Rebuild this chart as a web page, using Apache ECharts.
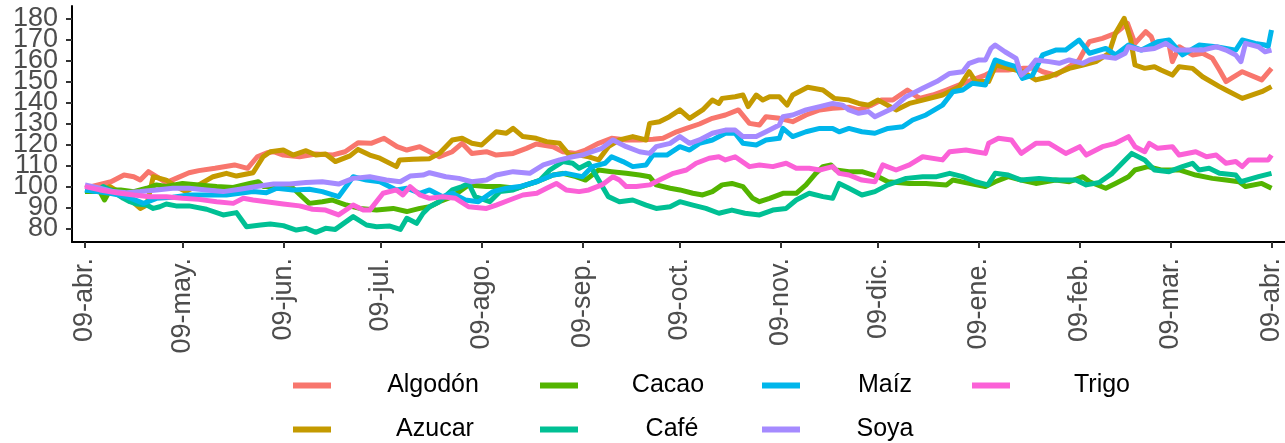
<!DOCTYPE html>
<html><head><meta charset="utf-8">
<script src="https://cdn.jsdelivr.net/npm/echarts@6/dist/echarts.min.js"></script>
<style>html,body{margin:0;padding:0;background:#fff}#c{width:1285px;height:443px}</style>
</head><body><div id="c"></div>
<script>
// ---------- DATA ----------
const seriesNames = ['Algodón','Azucar','Cacao','Café','Maíz','Soya','Trigo'];
const seriesColors = ['#F8766D','#C49A00','#53B400','#00C094','#00B6EB','#A58AFF','#FB61D7'];
const startDate = '2021-04-09';
const tickDates = ['2021-04-09','2021-05-09','2021-06-09','2021-07-09','2021-08-09','2021-09-09','2021-10-09','2021-11-09','2021-12-09','2022-01-09','2022-02-09','2022-03-09','2022-04-09'];
const tickLabels = ['09-abr.','09-may.','09-jun.','09-jul.','09-ago.','09-sep.','09-oct.','09-nov.','09-dic.','09-ene.','09-feb.','09-mar.','09-abr.'];
const yTicks = [80,90,100,110,120,130,140,150,160,170,180];

// [days since startDate, index value]
const algodon = [[0,99.4],[8,102.5],[12,105.7],[15,104.9],[17,103.3],[19.5,107.3],[22,104.9],[25,102.1],[28,104.1],[32,106.8],[35,107.8],[40,108.9],[46,110.5],[50,108.9],[53,114.4],[56,116.3],[58,116.8],[61,115.2],[66,114.4],[71,115.7],[76,115.2],[80,116.8],[84,121.1],[88,120.8],[92,123.2],[96,119.2],[99,117.6],[103,119.2],[106,116.8],[109,114.4],[113,116.8],[116,120.8],[119,116.0],[123.5,116.8],[126.5,115.2],[131.7,116.0],[135.8,118.4],[138.8,120.5],[144,119.2],[147,116.8],[151,116.0],[154,117.6],[158,120.8],[162,123.2],[166.5,122.4],[170.6,122.4],[174.7,122.7],[177.8,123.2],[182,126.3],[185,127.9],[189,130.0],[193,132.7],[197,134.3],[201,136.7],[204.4,130.3],[207.5,129.5],[209.5,133.5],[213.6,132.7],[217.7,131.1],[221.8,134.3],[226,136.7],[230,137.5],[235,138.0],[238,136.7],[242,139.0],[245,141.4],[248.5,141.4],[253,146.2],[256.7,142.2],[260.8,143.8],[265,146.2],[269,148.6],[273,151.0],[277,153.3],[280,155.7],[284,155.7],[288.4,156.5],[292.5,156.5],[294.6,154.9],[298.6,153.3],[302.8,157.3],[305.8,160.5],[308,166.8],[309,169.2],[313,170.8],[317,173.2],[320.7,177.9],[323,168.4],[326.3,174.0],[328,171.6],[329,167.6],[331.4,168.4],[333.5,167.6],[334.5,159.7],[336.6,166.8],[340.7,162.9],[343.8,163.7],[346.8,161.3],[349,155.7],[351,150.2],[356,154.9],[362,151.0],[365,156.5]];
const azucar = [[0,97.8],[4.6,97.8],[7.7,100.2],[12.8,95.4],[17,89.8],[19,91.4],[21,104.9],[25,103.3],[28,100.2],[31,97.8],[35,101.0],[39.4,104.9],[43.5,106.5],[46.6,105.2],[51.7,106.8],[54.8,114.4],[57,116.8],[61,117.6],[64,115.2],[68,117.3],[71,115.2],[74,115.7],[77,112.1],[81.5,114.8],[84,117.9],[87.6,115.2],[90.7,113.7],[95.8,109.7],[96.8,112.9],[101,113.2],[106,113.5],[109,116.0],[113,122.4],[116,123.2],[119,120.8],[122,120.0],[126.5,126.3],[129.6,125.6],[131.7,127.9],[134.7,124.0],[138.8,123.2],[142,121.6],[146,120.8],[149,115.2],[152,115.2],[155,114.4],[158,112.9],[161,119.2],[164.4,122.4],[168.5,124.0],[172.6,122.4],[173.7,130.3],[176.7,131.1],[179.8,133.5],[183,136.7],[186,132.7],[190,136.7],[193,141.4],[195,139.8],[196,142.2],[200,143.0],[202.4,143.8],[204,138.3],[206.5,143.8],[208.5,141.4],[210.6,143.0],[213.6,143.0],[216,139.0],[217.7,143.8],[222.3,147.5],[227,146.2],[230.5,142.2],[235,141.4],[238,139.8],[241,139.0],[244,141.4],[249.5,136.7],[253.6,139.8],[257.7,141.4],[263.8,143.8],[269,147.8],[272,154.9],[274,150.2],[278,150.2],[280.2,158.1],[284.3,156.5],[288.4,154.9],[292.5,151.0],[296.6,152.5],[302.8,156.5],[307,158.1],[311,159.7],[315,163.7],[317,173.2],[319.7,180.3],[321.7,170.0],[323,158.1],[326,156.5],[329,157.3],[331,155.7],[334.5,153.3],[336.6,157.3],[340.7,156.5],[343.8,152.5],[349,147.8],[351,146.2],[356,142.2],[362,145.4],[365,147.8]];
const cacao = [[0,97.8],[4.6,97.8],[6,93.8],[7.7,98.6],[11,98.6],[15,97.8],[19,99.4],[22,101.0],[25,100.2],[30,101.7],[35,101.0],[40.5,100.2],[45.6,99.8],[50.7,101.7],[53.3,102.5],[55,100.2],[59,100.2],[64,99.4],[69,92.2],[73,93.0],[76,93.8],[80.4,91.4],[84.5,89.8],[89.7,89.0],[94.8,89.8],[99,88.3],[103,89.8],[106,90.6],[109,93.0],[113,95.4],[118,101.0],[123.5,100.2],[127.6,100.2],[132.7,99.4],[139,102.5],[144,105.7],[147,106.5],[151,104.9],[154,103.3],[158,108.1],[162,107.3],[166.5,106.5],[170.6,105.7],[173.7,104.9],[175.7,101.0],[180,99.4],[183,98.6],[187,97.0],[190,96.2],[193,97.8],[196,101.0],[199,101.7],[202.4,100.2],[205.4,94.6],[207.5,93.0],[210.6,94.6],[214.7,97.0],[218.8,97.0],[221.8,101.0],[224.8,106.5],[227,109.7],[229.5,110.5],[231,108.1],[235,107.3],[239,107.3],[244,104.9],[247,102.5],[253.6,101.7],[258.7,101.7],[265,101.0],[267,103.3],[272,101.7],[277,100.2],[280,102.5],[284,104.9],[288,103.3],[292.5,101.7],[298.6,103.3],[302.8,102.5],[307,104.9],[309,102.5],[314,99.4],[317,101.7],[321,104.9],[323,108.1],[327,109.7],[331,108.1],[336.6,108.1],[341.7,105.7],[346.8,104.1],[351,103.3],[355,102.5],[357,100.2],[362,101.7],[365,99.4]];
const cafe = [[0,98.6],[3.6,97.8],[5.6,100.2],[8.7,97.8],[11.8,94.6],[13.8,93.0],[16,91.9],[19,91.4],[21,89.8],[23,90.6],[25,91.9],[28,91.0],[32,91.0],[37.4,89.4],[42.5,86.7],[46.6,87.8],[49.7,81.1],[54,81.9],[57,82.4],[61,81.6],[65,79.5],[68,80.3],[71,78.4],[74,80.3],[77,79.8],[82.5,85.9],[86.6,81.9],[89.7,81.1],[93.8,81.4],[97,79.8],[99,85.1],[102,82.7],[104,87.5],[106,90.6],[109,93.0],[113,98.6],[116,100.2],[118,101.7],[120,95.4],[124.5,93.0],[127.6,97.8],[131.7,98.6],[135.8,101.0],[140,103.3],[143,108.1],[147,112.1],[150,111.3],[152,108.9],[155,111.3],[158,103.3],[161,95.4],[164.4,93.0],[168.5,93.8],[172.6,91.4],[175.7,89.8],[180,90.6],[183,93.0],[187,91.4],[191,89.8],[195,87.5],[199,89.0],[203,87.5],[207.5,86.7],[211.6,89.0],[215.7,89.8],[218.8,93.8],[222.8,97.0],[227,95.4],[230,94.6],[232,101.7],[235,99.4],[239,96.2],[243,97.8],[247,101.0],[252.6,104.1],[257.7,104.9],[262,104.9],[266,106.5],[270,104.9],[274,102.5],[277.7,101.0],[280,106.5],[284,105.7],[288,103.3],[293.5,104.1],[298.6,103.3],[304.8,103.3],[308,101.0],[312,102.1],[316,106.5],[320,112.9],[322,116.0],[326,112.9],[329,108.1],[333.5,107.3],[337.6,109.7],[340.7,111.3],[342.7,108.1],[345.8,108.9],[349,106.5],[354,105.7],[355.6,102.5],[361,104.9],[365,106.5]];
const maiz = [[0,98.6],[3.6,97.8],[7.7,97.0],[12.8,95.4],[18,92.2],[22,94.6],[27,95.1],[32,96.2],[37,96.2],[43.5,96.2],[47.6,97.0],[51.7,97.8],[55.8,97.3],[59,99.4],[64,98.6],[69,98.9],[73,97.8],[78,95.4],[82.5,104.9],[86.6,103.3],[90.7,102.5],[95.8,98.6],[99,99.4],[103,97.0],[106,98.6],[110,95.4],[113,97.0],[117,93.8],[121,93.0],[125.5,97.8],[129.6,99.4],[133.7,100.2],[139,102.5],[144,105.7],[148,106.5],[153,104.9],[156,109.7],[160,111.3],[162,114.4],[165.5,112.1],[168.5,109.7],[172.6,110.5],[174.7,115.2],[179,115.2],[183,119.2],[186,117.6],[189,120.8],[193,122.4],[197,125.6],[200,125.6],[202.4,120.8],[206.5,120.0],[209.5,122.4],[213.6,123.2],[214.7,127.9],[217.7,124.0],[221.8,126.3],[226,127.9],[230,127.9],[232,126.3],[235,127.9],[239,126.3],[243,125.6],[247,127.9],[251.5,128.7],[254.6,131.9],[258.7,134.3],[263.8,139.0],[267,145.4],[270,146.2],[273,149.4],[277,148.6],[280,160.5],[283,158.9],[286.4,157.3],[288.4,151.7],[291.5,153.3],[294.6,162.9],[298.6,165.2],[301.7,165.2],[305.8,170.0],[309,163.7],[314,166.0],[317,162.9],[321,167.6],[325,165.2],[330,169.2],[333.5,170.0],[337.6,162.9],[342.7,167.6],[348,166.8],[354,165.2],[356,170.0],[360,168.4],[363,167.6],[364,167.0],[365,174.8]];
const soya = [[0,101.0],[4.6,99.4],[8.7,97.8],[12.8,97.3],[17,97.8],[22,98.6],[27,99.4],[32,99.4],[37.4,98.6],[42.5,97.8],[47.6,98.9],[52.8,100.2],[58,101.4],[63,101.4],[68,102.1],[73,102.5],[78,101.4],[82.5,104.1],[87.6,104.9],[92.7,103.3],[97,102.5],[100,105.2],[104,105.7],[106,106.8],[111,104.9],[115,104.1],[119,102.5],[123.5,103.3],[126.5,105.7],[131.7,107.3],[136.8,106.5],[141,110.5],[146,112.9],[150,114.4],[153,115.2],[156,116.8],[159,118.4],[162.4,122.4],[166.5,119.2],[170.6,116.8],[173.7,116.0],[175.7,119.2],[180,120.8],[183,124.0],[186,120.8],[189,122.4],[193,125.6],[197,127.1],[200,127.1],[202.4,124.0],[206.5,124.0],[209.5,126.3],[213.6,129.5],[214.7,133.5],[217.7,134.3],[221.8,136.7],[226,138.3],[230,139.8],[233,139.0],[235,136.7],[238,135.1],[241,135.9],[243,133.5],[248.5,137.5],[252.6,143.0],[257.7,147.0],[262,150.2],[266,154.1],[270,154.9],[272,158.9],[275,160.5],[277,160.5],[278.7,166.0],[280,167.6],[283,164.4],[286.4,161.3],[288,153.3],[290.5,156.5],[292.5,160.5],[296.6,159.7],[299.7,158.9],[302.8,160.5],[307,158.9],[309,160.5],[313,162.1],[317,161.3],[320,163.7],[321,166.8],[325,165.2],[329,166.0],[332.5,168.4],[335.6,165.2],[338.6,165.2],[343.8,165.2],[348,166.8],[351,165.2],[354,162.9],[355.6,159.7],[357,168.4],[361,166.8],[363,164.4],[365,165.2]];
const trigo = [[0,100.2],[4.6,98.6],[9.7,97.3],[15,96.2],[20,95.4],[25,95.4],[30,94.6],[35,94.1],[40.5,93.0],[45.6,92.2],[48.7,94.6],[51.7,93.8],[55.8,93.0],[61,91.9],[66,91.0],[70,89.4],[74,89.0],[78,86.7],[82.5,91.4],[85.6,89.0],[87.6,89.0],[91.7,97.0],[95.8,98.6],[97.8,96.2],[100,100.2],[103,96.2],[106,94.6],[110,95.4],[114,94.6],[118,90.6],[123.5,89.8],[126.5,91.4],[130.6,93.8],[134.7,96.2],[139,97.0],[142,99.4],[145,101.7],[148,98.6],[152,97.8],[155,98.6],[159,101.0],[162.4,104.9],[164.4,103.3],[166.5,100.2],[169.6,100.2],[173.7,101.0],[176.7,103.3],[181,106.5],[185,108.1],[188,111.3],[192,113.7],[195,114.4],[197,112.9],[200,114.4],[204.4,109.7],[207.5,110.5],[211.6,109.7],[215.7,111.3],[218.8,108.9],[222.8,108.9],[226,108.1],[230,109.7],[232,106.5],[235,105.7],[239,103.3],[243,102.5],[245.4,110.5],[249.5,108.1],[253.6,110.5],[257.7,114.4],[263.8,112.9],[266,116.8],[271,117.6],[274,116.8],[277,116.0],[278,120.8],[281,123.2],[285,122.4],[288,116.0],[292.5,120.8],[296.6,120.8],[301.7,116.0],[306,119.2],[308,115.2],[313,119.2],[317,120.8],[321,124.0],[323,119.2],[326,116.8],[327.4,120.8],[330,118.4],[334.5,119.2],[336.6,115.2],[341.7,116.8],[345,114.4],[348,115.2],[351,111.3],[354,112.1],[356,109.7],[358,112.9],[364,112.9],[365,115.2]];
const seriesData = [algodon, azucar, cacao, cafe, maiz, soya, trigo];

// ---------- CHART ----------
const DAY = 86400000;
const t0 = Date.UTC(+startDate.slice(0,4), +startDate.slice(5,7) - 1, +startDate.slice(8,10));
const tickDays = tickDates.map(d => Math.round((Date.UTC(+d.slice(0,4), +d.slice(5,7) - 1, +d.slice(8,10)) - t0) / DAY));
const FONT = "'Liberation Sans', Arial, sans-serif";
const Y_MIN = 73.8, Y_MAX = 186.2;
// padded with the axis ends so the library's first/last-label overlap rule drops those empty ends
const yLabelVals = [Y_MIN].concat(yTicks, [Y_MAX]);

const legendLayout = [
  {name:'Algodón', left:293, top:373, w:194},
  {name:'Azucar',  left:293, top:417, w:198},
  {name:'Cacao',   left:540, top:373, w:170},
  {name:'Café',    left:540, top:417, w:178},
  {name:'Maíz',    left:762, top:373, w:160},
  {name:'Soya',    left:762, top:417, w:160},
  {name:'Trigo',   left:972, top:373, w:174}
];

const chart = echarts.init(document.getElementById('c'), null, {renderer:'canvas'});
chart.setOption({
  animation: false,
  backgroundColor: '#ffffff',
  grid: {left:72, right:0, top:6, bottom:201, containLabel:false},
  xAxis: {
    type: 'value',
    min: -4, max: 369,
    axisLine: {show:true, onZero:false, lineStyle:{color:'#000', width:2}},
    axisTick: {show:true, length:6, customValues: tickDays, lineStyle:{color:'#333', width:2}},
    axisLabel: {
      customValues: tickDays, rotate: 90, margin: 16, interval: 0, hideOverlap: false,
      showMinLabel: true, showMaxLabel: true,
      fontSize: 27, fontFamily: FONT, color: '#4d4d4d',
      formatter: v => { const i = tickDays.indexOf(v); return i >= 0 ? tickLabels[i] : ''; }
    },
    splitLine: {show:false}
  },
  yAxis: {
    type: 'value', min: Y_MIN, max: Y_MAX,
    axisLine: {show:true, onZero:false, lineStyle:{color:'#000', width:2}},
    axisTick: {show:true, length:6, customValues: yTicks, lineStyle:{color:'#333', width:2}},
    axisLabel: {customValues: yLabelVals, margin: 14, interval: 0, hideOverlap: false,
      showMinLabel: false, showMaxLabel: false,
      formatter: v => (yTicks.indexOf(v) >= 0 ? String(v) : ''),
      fontSize: 27, fontFamily: FONT, color:'#4d4d4d'},
    splitLine: {show:false}
  },
  legend: legendLayout.map(l => ({
    data: [l.name], left: l.left, top: l.top, padding: 0,
    icon: 'rect', itemWidth: 38, itemHeight: 6, selectedMode: false,
    formatter: '{t|{name}}',
    textStyle: {rich: {t: {width: l.w, align: 'center', fontSize: 25, fontFamily: FONT, color: '#000', lineHeight: 30}}}
  })),
  series: seriesNames.map((n, i) => ({
    name: n, type: 'line', showSymbol: false, symbol: 'none',
    color: seriesColors[i],
    lineStyle: {width: 5, color: seriesColors[i], join: 'round', cap: 'butt'},
    data: seriesData[i]
  }))
});
</script>
</body></html>
